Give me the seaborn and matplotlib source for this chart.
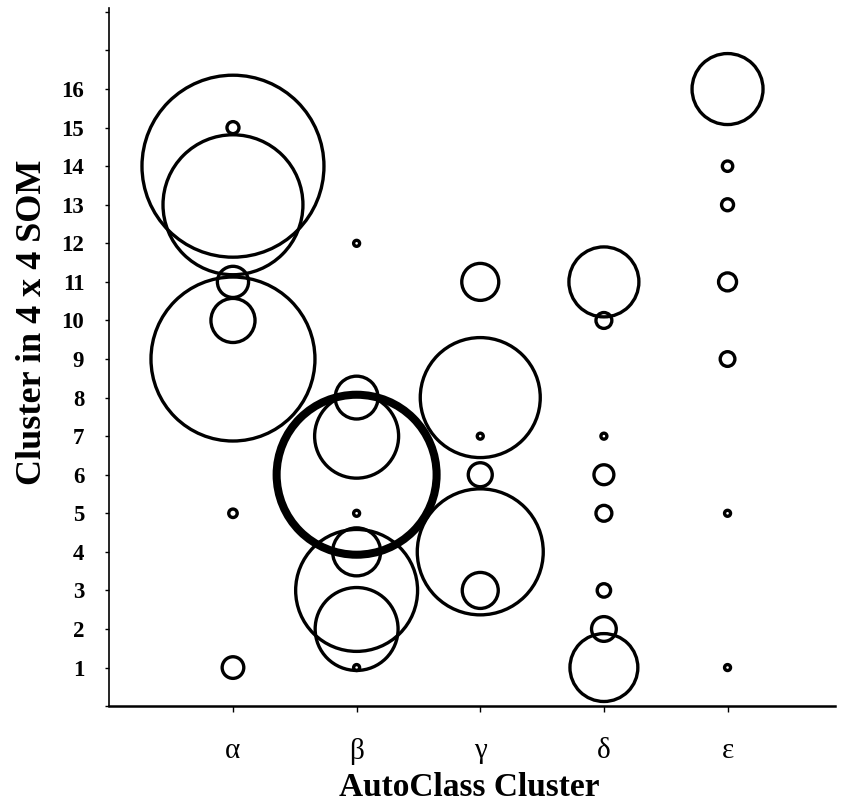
import numpy as np
import pandas as pd
import matplotlib
matplotlib.use("Agg")
import matplotlib.pyplot as plt
import seaborn as sns

# bubble data: SOM cluster (y) and member count (bubble area)
alpha_som = [14, 13, 15, 11, 10, 9, 5, 1]
alpha_n = [920, 544, 4, 27, 54, 747, 2, 13]
beta_som = [12, 8, 7, 6, 5, 4, 3, 2, 1]
beta_n = [1, 51, 196, 711, 1, 64, 413, 191, 1]
gamma_som = [11, 8, 7, 6, 4, 3]
gamma_n = [38, 400, 1, 16, 441, 36]
delta_som = [11, 10, 7, 6, 5, 3, 2, 1]
delta_n = [136, 7, 1, 11, 7, 5, 17, 128]
epsilon_som = [16, 14, 13, 11, 9, 5, 1]
epsilon_n = [140, 3, 4, 9, 6, 1, 1]

classes = ["α", "β", "γ", "δ", "ε"]
som_cols = [alpha_som, beta_som, gamma_som, delta_som, epsilon_som]
n_cols = [alpha_n, beta_n, gamma_n, delta_n, epsilon_n]

highlight = ("β", 6)  # the bold ring

rows = []
for c, ys, ns in zip(classes, som_cols, n_cols):
    for y, n in zip(ys, ns):
        rows.append({"autoclass": c, "som": y, "n": n})
df = pd.DataFrame(rows)
is_hl = (df["autoclass"] == highlight[0]) & (df["som"] == highlight[1])

plt.rcParams["font.family"] = ["Liberation Serif", "DejaVu Serif"]

fig = plt.figure(figsize=(8.41, 8.07), dpi=100)
ax = fig.add_axes([0.130, 0.125, 0.863, 0.865])

nmax = df["n"].max()
smax = 18.66 * nmax
common = dict(x="autoclass", y="som", size="n", sizes=(0, smax),
              size_norm=(0, nmax), color="black", facecolor="none",
              edgecolor="black", legend=False, ax=ax)
sns.scatterplot(data=df[~is_hl], linewidth=2.4, **common)
sns.scatterplot(data=df[is_hl], linewidth=5.8, **common)

ax.set_xlim(-1, 4.87)
ax.set_ylim(0, 18.1)
ax.set_yticks(range(0, 19))
ax.set_yticklabels(["" if (v == 0 or v > 16) else str(v) for v in range(0, 19)],
                   fontsize=16.5, fontweight="bold")
ax.set_xticks(range(len(classes)))
ax.set_xticklabels(classes, fontsize=21)

ax.tick_params(axis="y", length=3, width=1, pad=15)
ax.tick_params(axis="x", length=4, width=1, pad=19)

for side in ["top", "right"]:
    ax.spines[side].set_visible(False)
ax.spines["left"].set_linewidth(1.2)
ax.spines["bottom"].set_linewidth(1.8)

ax.set_xlabel("AutoClass Cluster", fontsize=24, fontweight="bold")
ax.set_ylabel("Cluster in 4 x 4 SOM", fontsize=26, fontweight="bold")
ax.xaxis.set_label_coords(0.4955, -0.094)
ax.yaxis.set_label_coords(-0.083, 0.55)

fig.savefig("out.png", dpi=100)
